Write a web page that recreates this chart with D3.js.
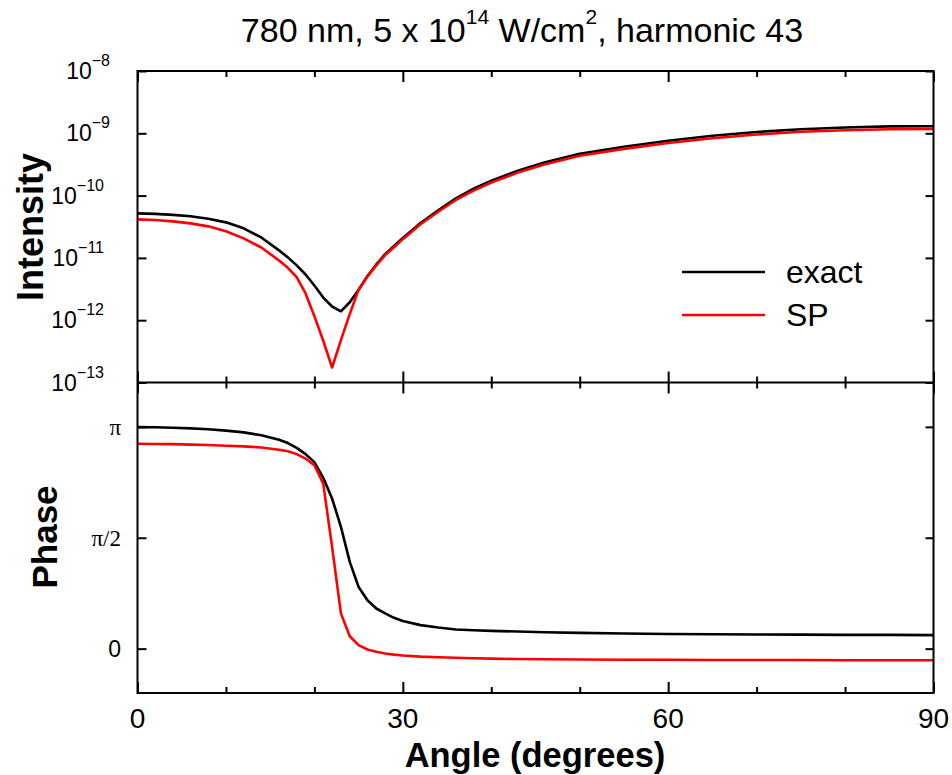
<!DOCTYPE html>
<html>
<head>
<meta charset="utf-8">
<script src="https://cdnjs.cloudflare.com/ajax/libs/d3/7.8.5/d3.min.js"></script>
<style>
  body { margin: 0; background: #fff; }
  svg { display: block; font-family: "Liberation Sans", Arial, sans-serif; }
</style>
</head>
<body>
<script>
"use strict";

// ----------------------------------------
//  Data
// ----------------------------------------
const angles = [0, 2, 4, 6, 8, 10, 12, 14, 16, 17, 18, 19, 20, 21, 22, 23, 24, 25, 26, 27, 28, 29, 30,
                32, 34, 36, 38, 40, 43, 46, 50, 55, 60, 65, 70, 75, 80, 85, 90];

const intensityExact = [5.19e-11, 5.09e-11, 4.91e-11, 4.65e-11, 4.24e-11, 3.72e-11, 2.98e-11, 2.13e-11,
                        1.32e-11, 1.02e-11, 7.59e-12, 5.42e-12, 3.61e-12, 2.31e-12, 1.66e-12, 1.39e-12,
                        1.94e-12, 3.09e-12, 5.13e-12, 7.85e-12, 1.15e-11, 1.55e-11, 2.09e-11,
                        3.63e-11, 5.82e-11, 9.02e-11, 1.29e-10, 1.74e-10, 2.51e-10, 3.39e-10, 4.68e-10,
                        6.10e-10, 7.59e-10, 9.12e-10, 1.05e-9, 1.16e-9, 1.24e-9, 1.29e-9, 1.30e-9];

const intensitySP = [4.16e-11, 4.06e-11, 3.86e-11, 3.58e-11, 3.21e-11, 2.67e-11, 2.06e-11, 1.47e-11,
                     9.10e-12, 6.92e-12, 4.90e-12, 2.69e-12, 1.16e-12, 4.68e-13, 1.74e-13, 4.79e-13,
                     1.26e-12, 3.09e-12, 5.01e-12, 7.59e-12, 1.11e-11, 1.48e-11, 2.00e-11,
                     3.47e-11, 5.50e-11, 8.51e-11, 1.20e-10, 1.62e-10, 2.34e-10, 3.16e-10, 4.37e-10,
                     5.62e-10, 7.00e-10, 8.32e-10, 9.55e-10, 1.06e-9, 1.12e-9, 1.16e-9, 1.17e-9];

// phase in units of pi
const phaseExact = [0.999, 0.998, 0.996, 0.993, 0.989, 0.983, 0.975, 0.962, 0.942, 0.927, 0.905, 0.877,
                    0.841, 0.770, 0.677, 0.549, 0.391, 0.278, 0.218, 0.181, 0.159, 0.139, 0.125,
                    0.106, 0.095, 0.086, 0.083, 0.080, 0.077, 0.074, 0.071, 0.068, 0.066, 0.065,
                    0.064, 0.063, 0.062, 0.062, 0.061];

const phaseSP = [0.924, 0.923, 0.922, 0.920, 0.918, 0.915, 0.912, 0.907, 0.897, 0.890, 0.877, 0.857,
                 0.827, 0.744, 0.459, 0.159, 0.056, 0.016, -0.004, -0.014, -0.022, -0.027, -0.031,
                 -0.036, -0.039, -0.041, -0.043, -0.045, -0.047, -0.048, -0.049, -0.050, -0.050,
                 -0.051, -0.051, -0.051, -0.052, -0.052, -0.052];

const angleTicks = [0, 30, 60, 90];
const angleMinorTicks = [10, 20, 40, 50, 70, 80];
const intensityExponents = [-8, -9, -10, -11, -12, -13];
const phaseTicks = [0, 0.5, 1];
const phaseTickLabels = ["0", "\u03c0/2", "\u03c0"];
const seriesNames = ["exact", "SP"];
const seriesColors = ["#000000", "#ff0000"];

// ----------------------------------------
//  Sizing and scales
// ----------------------------------------
const W = 952, H = 775;
const left = 137.5, right = 933.5;
const topY = 71, midY = 382.5, bottomY = 693;

const x = d3.scaleLinear().domain([0, 90]).range([left, right]);
const yI = d3.scaleLog().domain([1e-13, 1e-8]).range([midY, topY]);
const yP = d3.scaleLinear().domain([-0.2, 1.2]).range([bottomY, midY]);

const svg = d3.select("body").append("svg")
    .attr("width", W)
    .attr("height", H);

// ----------------------------------------
//  Curves
// ----------------------------------------
const intensityLine = d3.line()
    .x(d => x(d[0]))
    .y(d => yI(d[1]));

const phaseLine = d3.line()
    .x(d => x(d[0]))
    .y(d => yP(d[1]));

const intensitySeries = [intensityExact, intensitySP];
const phaseSeries = [phaseExact, phaseSP];

intensitySeries.forEach(function(vals, i) {
    svg.append("path")
        .attr("d", intensityLine(d3.zip(angles, vals)))
        .attr("fill", "none")
        .attr("stroke", seriesColors[i])
        .attr("stroke-width", 2.6)
        .attr("stroke-linejoin", "round");
});

phaseSeries.forEach(function(vals, i) {
    svg.append("path")
        .attr("d", phaseLine(d3.zip(angles, vals)))
        .attr("fill", "none")
        .attr("stroke", seriesColors[i])
        .attr("stroke-width", 2.6)
        .attr("stroke-linejoin", "round");
});

// ----------------------------------------
//  Frames and ticks
// ----------------------------------------
svg.append("rect")
    .attr("x", left).attr("y", topY)
    .attr("width", right - left).attr("height", bottomY - topY)
    .attr("fill", "none").attr("stroke", "#000").attr("stroke-width", 2);

svg.append("line")
    .attr("x1", left).attr("x2", right)
    .attr("y1", midY).attr("y2", midY)
    .attr("stroke", "#000").attr("stroke-width", 2);

function ticks(axis, values, size, ty, tx) {
    const g = svg.append("g")
        .attr("transform", "translate(" + (tx || 0) + "," + (ty || 0) + ")")
        .call(axis.tickValues(values).tickSize(size).tickFormat(""));
    g.select(".domain").remove();
    g.selectAll("line").attr("stroke-width", 2);
}

// x ticks: top edge, both sides of the middle line, bottom edge
[[d3.axisTop, topY], [d3.axisBottom, midY], [d3.axisTop, midY], [d3.axisBottom, bottomY]].forEach(function(a) {
    ticks(a[0](x), angleTicks, -11, a[1]);
    ticks(a[0](x), angleMinorTicks, -6, a[1]);
});

// y ticks, left and right
const decadeTicks = intensityExponents.map(e => Math.pow(10, e));
ticks(d3.axisLeft(yI), decadeTicks, -9, 0, left);
ticks(d3.axisRight(yI), decadeTicks, -8, 0, right);
ticks(d3.axisLeft(yP), phaseTicks, -9, 0, left);
ticks(d3.axisRight(yP), phaseTicks, -8, 0, right);

// ----------------------------------------
//  Tick labels
// ----------------------------------------
svg.selectAll(".xlab")
    .data(angleTicks)
    .enter().append("text")
    .attr("x", d => x(d))
    .attr("y", 728)
    .attr("text-anchor", "middle")
    .attr("font-size", 28)
    .text(d => d);

const ilab = svg.selectAll(".ilab")
    .data(intensityExponents)
    .enter().append("text")
    .attr("x", d => d > -10 ? 110 : 104)
    .attr("y", d => yI(Math.pow(10, d)) + 8)
    .attr("text-anchor", "end")
    .attr("font-size", 23);
ilab.append("tspan").text("10");
ilab.append("tspan")
    .attr("dy", -13)
    .attr("font-size", 16)
    .text(d => "\u2212" + (-d));

svg.selectAll(".plab")
    .data(phaseTicks)
    .enter().append("text")
    .attr("x", 121)
    .attr("y", d => yP(d) + 8)
    .attr("text-anchor", "end")
    .attr("font-size", 23)
    .attr("font-family", (d, i) => i === 0 ? "Liberation Sans, Arial, sans-serif" : "Liberation Serif, Times New Roman, serif")
    .text((d, i) => phaseTickLabels[i]);

// ----------------------------------------
//  Axis titles and chart title
// ----------------------------------------
svg.append("text")
    .attr("transform", "translate(43," + 227 + ") rotate(-90)")
    .attr("text-anchor", "middle")
    .attr("font-size", 36)
    .attr("font-weight", "bold")
    .text("Intensity");

svg.append("text")
    .attr("transform", "translate(57," + 537 + ") rotate(-90)")
    .attr("text-anchor", "middle")
    .attr("font-size", 35)
    .attr("font-weight", "bold")
    .text("Phase");

svg.append("text")
    .attr("x", 535)
    .attr("y", 767)
    .attr("text-anchor", "middle")
    .attr("font-size", 34.5)
    .attr("font-weight", "bold")
    .text("Angle (degrees)");

const title = svg.append("text")
    .attr("x", 522)
    .attr("y", 42)
    .attr("text-anchor", "middle")
    .attr("font-size", 34);
title.append("tspan").text("780 nm, 5 x 10");
title.append("tspan").attr("dy", -18).attr("font-size", 21).text("14");
title.append("tspan").attr("dy", 18).text(" W/cm");
title.append("tspan").attr("dy", -18).attr("font-size", 21).text("2");
title.append("tspan").attr("dy", 18).text(", harmonic 43");

// ----------------------------------------
//  Legend
// ----------------------------------------
const legendY = [272, 315];
seriesNames.forEach(function(name, i) {
    svg.append("line")
        .attr("x1", 682).attr("x2", 765)
        .attr("y1", legendY[i]).attr("y2", legendY[i])
        .attr("stroke", seriesColors[i])
        .attr("stroke-width", 2.6);
    svg.append("text")
        .attr("x", 786)
        .attr("y", legendY[i] + 11)
        .attr("font-size", 32)
        .text(name);
});
</script>
</body>
</html>
